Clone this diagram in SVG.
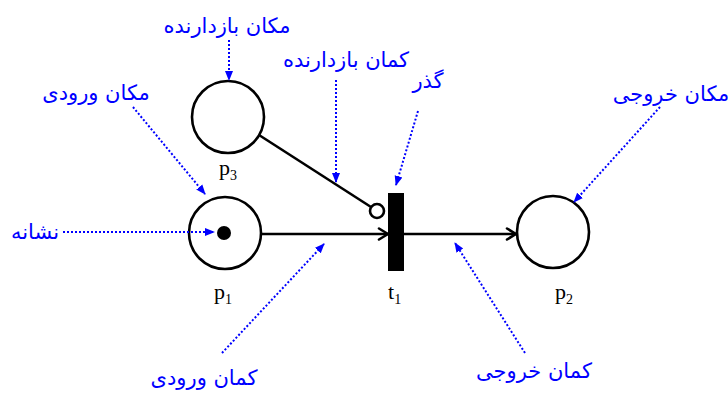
<svg xmlns="http://www.w3.org/2000/svg" width="728" height="393" viewBox="0 0 728 393">
<defs>
<style>
.place{fill:#fff;stroke:#000;stroke-width:2.6}
.arc{fill:none;stroke:#000;stroke-width:2.6}
.dot{fill:none;stroke:#0000ff;stroke-width:2;stroke-dasharray:2 2}
.lbl{font-family:"Liberation Serif","Times New Roman",serif;font-size:22px;fill:#000}
.fa{font-family:"DejaVu Sans",sans-serif;font-size:21px;fill:#0000ff;text-anchor:middle}
</style>
<marker id="bl" markerWidth="10" markerHeight="10" refX="9" refY="5" orient="auto" markerUnits="userSpaceOnUse">
<path d="M0,1 L10,5 L0,9 Z" fill="#0000ff"/>
</marker>
<marker id="ch" markerWidth="14" markerHeight="14" refX="12" refY="7" orient="auto" markerUnits="userSpaceOnUse">
<path d="M3,1.5 L12,7 L3,12.5" fill="none" stroke="#000" stroke-width="2.6" stroke-linecap="round" stroke-linejoin="round"/>
</marker>
</defs>

<g id="connectors">
<line class="arc" x1="261" y1="234" x2="388" y2="234" marker-end="url(#ch)"/>
<line class="arc" x1="404" y1="234" x2="516" y2="234" marker-end="url(#ch)"/>
<line class="arc" x1="259" y1="135" x2="371" y2="207"/>
<circle cx="377" cy="211" r="7" fill="#fff" stroke="#000" stroke-width="2.6"/>
</g>

<g id="p3"><circle class="place" cx="228" cy="117" r="36"/><text class="lbl" x="219" y="175">p<tspan font-size="14" dy="5">3</tspan></text></g>
<g id="p1"><circle class="place" cx="225" cy="233" r="36"/><circle cx="224" cy="233" r="7" fill="#000"/><text class="lbl" x="214" y="299">p<tspan font-size="14" dy="5">1</tspan></text></g>
<g id="t1"><rect x="388" y="193" width="16" height="78" fill="#000"/><text class="lbl" x="388" y="299">t<tspan font-size="14" dy="5">1</tspan></text></g>
<g id="p2"><circle class="place" cx="553" cy="232" r="36"/><text class="lbl" x="555" y="299">p<tspan font-size="14" dy="5">2</tspan></text></g>

<g id="annotations">
<line class="dot" x1="229" y1="40" x2="229" y2="80" marker-end="url(#bl)"/>
<line class="dot" x1="336" y1="80" x2="336" y2="182" marker-end="url(#bl)"/>
<line class="dot" x1="418" y1="111" x2="396" y2="185" marker-end="url(#bl)"/>
<line class="dot" x1="133" y1="107" x2="205" y2="194" marker-end="url(#bl)"/>
<line class="dot" x1="63" y1="232" x2="214" y2="232" marker-end="url(#bl)"/>
<line class="dot" x1="660" y1="107" x2="574" y2="202" marker-end="url(#bl)"/>
<line class="dot" x1="222" y1="353" x2="324" y2="244" marker-end="url(#bl)"/>
<line class="dot" x1="525" y1="353" x2="455" y2="243" marker-end="url(#bl)"/>
<text class="fa" x="227" y="33">مکان بازدارنده</text>
<text class="fa" x="346" y="67">کمان بازدارنده</text>
<text class="fa" x="428" y="88">گذر</text>
<text class="fa" x="96" y="100">مکان ورودی</text>
<text class="fa" x="35" y="239">نشانه</text>
<text class="fa" x="671" y="101">مکان خروجی</text>
<text class="fa" x="204" y="385">کمان ورودی</text>
<text class="fa" x="534" y="378">کمان خروجی</text>
</g>
</svg>
